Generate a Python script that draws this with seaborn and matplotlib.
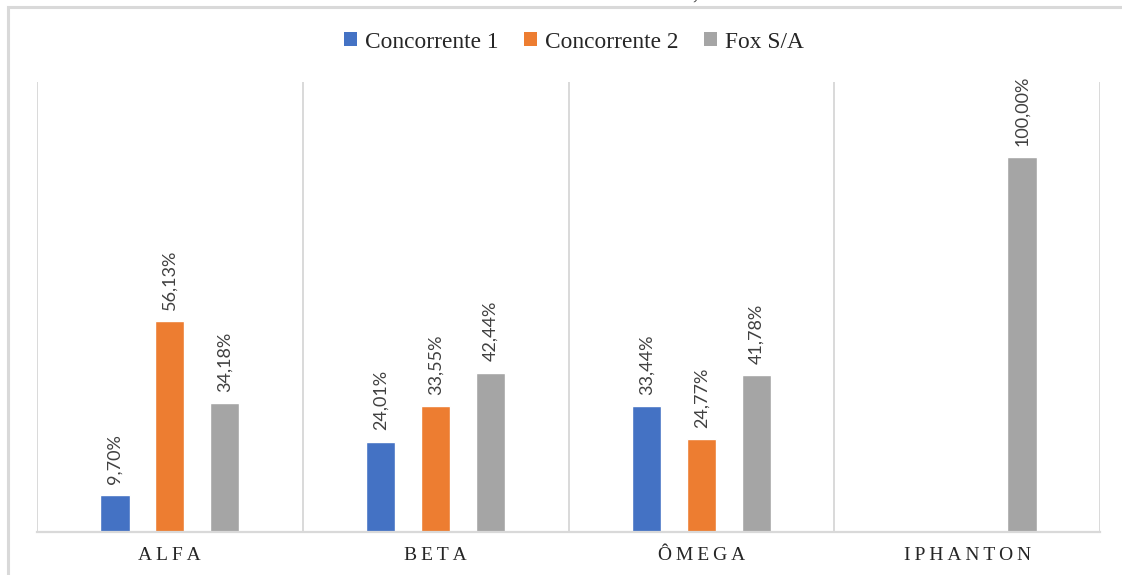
import numpy as np
import pandas as pd
import matplotlib
matplotlib.use("Agg")
import matplotlib.pyplot as plt
import seaborn as sns
from matplotlib.patches import Rectangle

# Market share by product line
categories = ["ALFA", "BETA", "ÔMEGA", "IPHANTON"]
series = ["Concorrente 1", "Concorrente 2", "Fox S/A"]
concorrente_1 = [9.70, 24.01, 33.44, np.nan]
concorrente_2 = [56.13, 33.55, 24.77, np.nan]
fox_sa = [34.18, 42.44, 41.78, 100.00]
colors = ["#4472C4", "#ED7D31", "#A5A5A5"]

values_by_series = [concorrente_1, concorrente_2, fox_sa]
rows = []
for name, vals in zip(series, values_by_series):
    for cat, v in zip(categories, vals):
        if not np.isnan(v):
            rows.append({"categoria": cat, "serie": name, "valor": v})
df = pd.DataFrame(rows)

sns.set_theme(style="white")
SERIF = "Liberation Serif"
SANS = "Lato"

W, H = 1122, 575
fig = plt.figure(figsize=(W / 100, H / 100), dpi=100)
ax = fig.add_axes([37 / W, 1 - 531.5 / H, (1100 - 37) / W, (531.5 - 82) / H])

sns.barplot(
    data=df, x="categoria", y="valor", hue="serie",
    order=categories, hue_order=series, palette=colors,
    width=0.62, gap=0.47, saturation=1, errorbar=None,
    legend=False, ax=ax,
)

ax.set_xlim(-0.5, len(categories) - 0.5)
ax.set_ylim(0, 120)
ax.set_xlabel("")
ax.set_ylabel("")
ax.set_yticks([])

# category separators
ax.set_xticks(np.arange(len(categories) + 1) - 0.5, minor=True)
ax.grid(which="minor", axis="x", color="#d9d9d9", lw=1.4)
ax.grid(which="major", visible=False)
ax.tick_params(which="both", length=0)

for side in ["top", "left", "right"]:
    ax.spines[side].set_visible(False)
ax.spines["bottom"].set_color("#d9d9d9")
ax.spines["bottom"].set_linewidth(1.6)

spaced = ["\u2009".join(c) for c in categories]
ax.set_xticks(range(len(categories)))
ax.set_xticklabels(spaced, fontfamily=SERIF, fontsize=14, color="#262626")
ax.tick_params(axis="x", which="major", pad=11)

# value labels
for container, vals in zip(ax.containers, values_by_series):
    present = [v for v in vals if not np.isnan(v)]
    labels = [f"{v:.2f}".replace(".", ",") + "%" for v in present]
    ax.bar_label(container, labels=labels, rotation=90, padding=8,
                 fontsize=13, fontfamily=SANS, color="#404040")

# legend
handles = [Rectangle((0, 0), 1, 1, facecolor=c, edgecolor="none") for c in colors]
fig.legend(handles, series, loc="center", bbox_to_anchor=(574 / W, 1 - 42 / H),
           ncol=3, frameon=False, handlelength=0.55, handleheight=0.55,
           handletextpad=0.35, columnspacing=1.1,
           prop={"family": SERIF, "size": 16.8})

# outer frame of the chart area
fig.patches.append(Rectangle((7.5 / W, -0.1), 1.2, 1.1 - 6.5 / H,
                             transform=fig.transFigure, fill=False,
                             edgecolor="#d9d9d9", lw=2.2))
fig.text(695 / W, 1 + 1 / H, ",", fontfamily=SERIF, fontsize=15,
         va="baseline", ha="center", color="#262626")

fig.savefig("out.png", dpi=100)
